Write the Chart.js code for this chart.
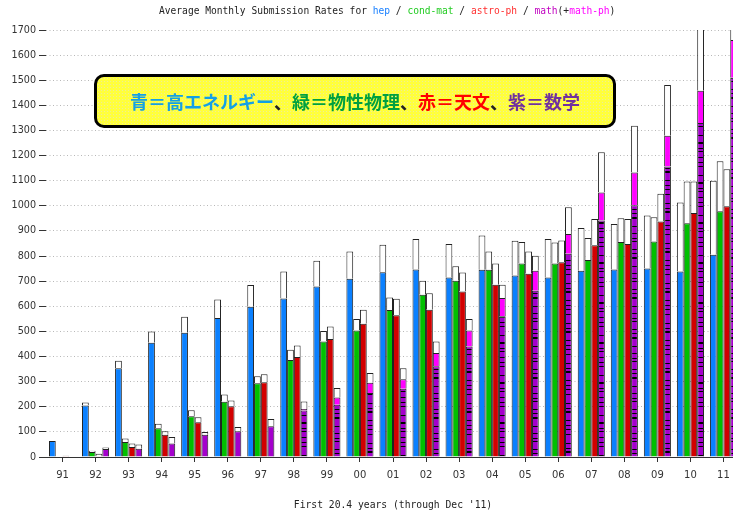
<!DOCTYPE html>
<html>
<head>
<meta charset="utf-8">
<script src="https://cdn.jsdelivr.net/npm/chart.js@4/dist/chart.umd.min.js"></script>
<style>
  body { margin: 0; overflow: hidden; background: #fff; }
  #wrap { position: relative; width: 740px; height: 513px; }
  #title {
    position: absolute; left: 159px; top: 5px;
    font: 9.6px "DejaVu Sans Mono", monospace; color: #222; white-space: nowrap;
  }
  #note {
    position: absolute; left: 94px; top: 74px; width: 522px; height: 54px;
    box-sizing: border-box; border: 3px solid #000; border-radius: 10px;
    background-color: #ffff3c;
    background-image: radial-gradient(#ecec9a 0.7px, transparent 0.9px);
    background-size: 3px 3px;
    display: flex; align-items: center; justify-content: center;
    font: bold 18px "Noto Sans CJK JP", sans-serif; color: #222; white-space: nowrap;
  }
</style>
</head>
<body>
<div id="wrap">
  <canvas id="subs" width="740" height="513"></canvas>
  <div id="title">Average Monthly Submission Rates for <span style="color:#1a80ff">hep</span> / <span style="color:#22cc22">cond-mat</span> / <span style="color:#ff3030">astro-ph</span> / <span style="color:#c000c0">math</span>(+<span style="color:#ff00ff">math-ph</span>)</div>
  <div id="note"><span style="color:#13a0e6">青＝高エネルギー</span>、<span style="color:#00a040">緑＝物性物理</span>、<span style="color:#ff0000">赤＝天文</span>、<span style="color:#7030a0">紫＝数学</span></div>
</div>
<script>
const years = ["91", "92", "93", "94", "95", "96", "97", "98", "99", "00", "01",
  "02", "03", "04", "05", "06", "07", "08", "09", "10", "11"];

// colored part = primary submissions, top of white part = total incl. cross-lists
const hepPrimary = [64, 205, 353, 455, 495, 553, 598, 631, 679, 710, 736, 746, 715, 745, 723, 715, 742, 746, 750, 739, 805];
const hepTotal = [64, 217, 383, 500, 558, 627, 685, 739, 781, 818, 845, 868, 848, 882, 861, 868, 912, 928, 961, 1013, 1100];

const condPrimary = [0, 20, 60, 114, 162, 220, 294, 386, 460, 504, 585, 646, 702, 745, 770, 770, 784, 856, 858, 931, 978];
const condTotal = [0, 25, 74, 132, 186, 249, 321, 427, 502, 549, 635, 702, 759, 818, 856, 854, 872, 951, 955, 1097, 1177];

const astroPrimary = [3, 3, 40, 89, 138, 202, 298, 398, 470, 531, 564, 586, 659, 686, 730, 775, 843, 848, 938, 971, 998];
const astroTotal = [5, 13, 54, 103, 158, 225, 329, 444, 520, 586, 630, 652, 735, 770, 818, 862, 948, 948, 1048, 1097, 1146];

const mathPrimary = [0, 32, 33, 54, 89, 103, 122, 185, 208, 255, 272, 361, 440, 560, 662, 809, 942, 1002, 1157, 1330, 1510];
const mathWithPh = [0, 32, 33, 54, 89, 103, 122, 191, 237, 296, 310, 414, 504, 633, 742, 888, 1053, 1133, 1279, 1458, 1660];
const mathTotal = [0, 38, 50, 80, 100, 119, 151, 221, 275, 334, 353, 460, 549, 686, 801, 994, 1213, 1319, 1481, 1800, 1850];

const yMax = 1700;
const yStep = 100;

const blue = "#0a80ff";
const green = "#00c000";
const red = "#d20000";
const purple = "#a400cc";
const magenta = "#ff00ff";
const edge = "#222";

// difference between two series, empty where nothing is stacked
const diff = (top, base) => top.map((v, i) => (v - base[i] > 0 ? v - base[i] : null));
const nz = (arr) => arr.map((v) => (v > 0 ? v : null));

// striped purple fill seen on the math bars from 98 on
function stripes(lines) {
  const c = document.createElement("canvas");
  c.width = 8;
  c.height = 40;
  const g = c.getContext("2d");
  g.fillStyle = purple;
  g.fillRect(0, 0, 8, 40);
  g.fillStyle = "#000";
  lines.forEach((y) => g.fillRect(0, y, 8, 1));
  return g.createPattern(c, "repeat");
}
const patterns = [
  stripes([3, 8, 11, 12, 20, 25, 29, 34]),
  stripes([2, 6, 15, 22, 23, 28, 31, 37]),
  stripes([1, 9, 13, 17, 18, 26, 33, 38]),
];
const mathFill = (ctx) =>
  ctx.dataIndex >= years.indexOf("98") ? patterns[ctx.dataIndex % 3] : purple;

const bar = (data, color, stack) => ({
  data: data,
  backgroundColor: color,
  borderColor: edge,
  borderWidth: 1,
  stack: stack,
});

const subs = new Chart(document.getElementById("subs"), {
  type: "bar",
  data: {
    labels: years,
    datasets: [
      bar(nz(hepPrimary), blue, "hep"),
      bar(diff(hepTotal, hepPrimary), "#fff", "hep"),
      bar(nz(condPrimary), green, "cond"),
      bar(diff(condTotal, condPrimary), "#fff", "cond"),
      bar(nz(astroPrimary), red, "astro"),
      bar(diff(astroTotal, astroPrimary), "#fff", "astro"),
      bar(nz(mathPrimary), mathFill, "math"),
      bar(diff(mathWithPh, mathPrimary), magenta, "math"),
      bar(diff(mathTotal, mathWithPh), "#fff", "math"),
    ],
  },
  options: {
    responsive: false,
    animation: false,
    categoryPercentage: 0.82,
    barPercentage: 1,
    layout: {
      padding: { left: 10, top: 30, right: 0, bottom: 0 },
    },
    scales: {
      x: {
        stacked: true,
        afterFit: (scale) => {
          scale.height = 56;
        },
        grid: {
          offset: false,
          drawOnChartArea: false,
          tickLength: 5,
          tickColor: "#333",
        },
        border: { display: true, color: "#333", width: 1 },
        ticks: {
          color: "#333",
          padding: 7,
          maxRotation: 0,
          font: { family: "DejaVu Sans", size: 10 },
        },
        title: {
          display: true,
          text: "First 20.4 years (through Dec '11)",
          color: "#222",
          padding: { top: 0, bottom: 2 },
          font: { family: "DejaVu Sans Mono", size: 9.7 },
        },
      },
      y: {
        stacked: true,
        min: 0,
        max: yMax,
        afterFit: (scale) => {
          scale.width = 36;
        },
        grid: {
          color: (ctx) => (ctx.tick && ctx.tick.value === 0 ? "rgba(0,0,0,0)" : "#b8b8b8"),
          tickColor: "#333",
          tickLength: 7,
        },
        border: { display: false, dash: [1, 2.5] },
        ticks: {
          stepSize: yStep,
          color: "#333",
          padding: 3,
          font: { family: "DejaVu Sans", size: 9.6 },
          callback: (value) => String(value),
        },
      },
    },
    plugins: {
      legend: { display: false },
      tooltip: { enabled: false },
    },
  },
});
</script>
</body>
</html>
